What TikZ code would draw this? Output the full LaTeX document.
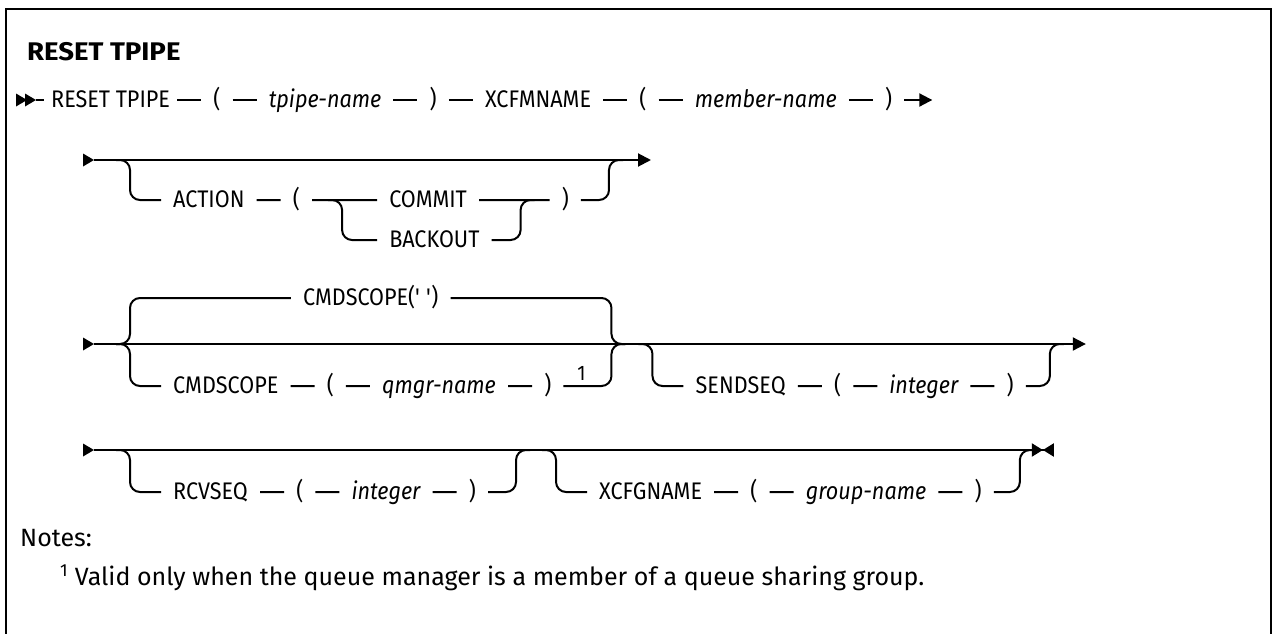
\documentclass[tikz,border=0pt]{standalone}
\usepackage{fontspec}
\setmainfont{Fira Sans}
\newfontfamily\railfont[FakeStretch=0.9]{Fira Sans}
\newfontfamily\titlefont[FakeStretch=1.08]{Fira Sans}
\usetikzlibrary{arrows.meta,positioning,calc}

\tikzset{
  rail/.style={line width=2pt,rounded corners=10pt},
  kw/.style={font=\railfont\fontsize{24}{28}\selectfont,inner xsep=12pt,inner ysep=0pt,text height=17pt,text depth=3pt},
  var/.style={kw,font=\railfont\itshape\fontsize{24}{28}\selectfont},
  endarrow/.style={-{Triangle[length=13pt,width=13pt]}},
  endstop/.style={-{Triangle[length=11pt,width=13pt] Triangle[reversed,length=11pt,width=13pt]}},
  startmark/.pic={\fill (0pt,0pt) -- (-11pt,6.5pt) -- (-11pt,-6.5pt) -- cycle;}
}

\begin{document}
\begin{tikzpicture}[x=1pt,y=-1pt,node distance=24pt]
  \useasboundingbox (0,0) rectangle (1274,634);
  % frame and title
  \draw[line width=2.4pt] (6,640) -- (6,9) -- (1271,9) -- (1271,640);
  \node[anchor=west,inner sep=0pt,font=\titlefont\bfseries\fontsize{25.5}{30}\selectfont] (ttl) at (27,52) {RESET TPIPE};

  % row 1
  \coordinate (b1) at (36,100);
  \pic at (27,100) {startmark};
  \pic at (36,100) {startmark};
  \node[kw,anchor=west,inner xsep=7pt] (rst) at (44,100) {RESET TPIPE};
  \node[kw,right=of rst] (lp1) {(};
  \node[var,right=of lp1] (tpn) {tpipe-name};
  \node[kw,right=of tpn] (rp1) {)};
  \node[kw,right=of rp1] (xfm) {XCFMNAME};
  \node[kw,right=of xfm] (lp2) {(};
  \node[var,right=of lp2] (mbn) {member-name};
  \node[kw,right=of mbn] (rp2) {)};
  \coordinate[right=28pt of rp2] (e1);
  \draw[rail] (b1) -- (rst) -- (lp1) -- (tpn) -- (rp1) -- (xfm) -- (lp2) -- (mbn) -- (rp2);
  \draw[rail,endarrow] (rp2) -- (e1);

  % row 2: ACTION
  \coordinate (b2) at (94,160);
  \coordinate (j2a) at (130,160);
  \pic at (94,160) {startmark};
  \node[kw,anchor=west] (act) at (161,200) {ACTION};
  \node[kw,right=of act] (lp3) {(};
  \coordinate (s3) at ($(lp3.east)+(30,0)$);
  \node[kw,anchor=west] (cmt) at ($(s3)+(35,0)$) {COMMIT};
  \node[kw,anchor=west] (bko) at ($(s3)+(35,40)$) {BACKOUT};
  \coordinate (m3) at ($(bko.east)+(29,-40)$);
  \node[kw,anchor=west] (rp3) at ($(m3)+(29,0)$) {)};
  \coordinate (j2b) at ($(rp3.east)+(28,-40)$);
  \coordinate[right=42pt of j2b] (e2);
  \draw[rail,endarrow] (b2) -- (e2);
  \draw[rail] (j2a) ++(-14,0) -| (j2a |- act) -- (act) -- (lp3) -- (cmt) -- (rp3) -| (j2b) -- ++(14,0);
  \draw[rail] (s3) ++(-14,0) -| (s3 |- bko) -- (bko) -| (m3) -- ++(14,0);

  % row 3: CMDSCOPE, SENDSEQ
  \coordinate (b3) at (94,344);
  \coordinate (j3a) at (130,344);
  \pic at (94,344) {startmark};
  \node[kw,anchor=west] (cmd) at (161,386) {CMDSCOPE};
  \node[kw,right=of cmd] (lp4) {(};
  \node[var,right=of lp4] (qmn) {qmgr-name};
  \node[kw,right=of qmn] (rp4) {)};
  \node[anchor=south,inner sep=0pt,font=\railfont\fontsize{21}{24}\selectfont] (nt1) at ($(rp4.east)+(18,-5)$) {1};
  \coordinate (j3b) at ($(rp4.east)+(48,-42)$);
  \node[kw] (dflt) at ($(j3a)!0.5!(j3b)+(0,-46)$) {CMDSCOPE(\textquotesingle\ \textquotesingle)};
  \coordinate[right=41pt of j3b] (j3c);
  \node[kw,anchor=west] (snd) at ($(j3c)+(31,42)$) {SENDSEQ};
  \node[kw,right=of snd] (lp5) {(};
  \node[var,right=of lp5] (int1) {integer};
  \node[kw,right=of int1] (rp5) {)};
  \coordinate (j3d) at ($(rp5.east)+(24,-42)$);
  \coordinate[right=36pt of j3d] (e3);
  \draw[rail,endarrow] (b3) -- (e3);
  \draw[rail] (j3a) ++(-14,0) -| (j3a |- dflt) -- (dflt) -| (j3b) -- ++(14,0);
  \draw[rail] (j3a) ++(-14,0) -| (j3a |- cmd) -- (cmd) -- (lp4) -- (qmn) -- (rp4) -| (j3b) -- ++(14,0);
  \draw[rail] (j3c) ++(-14,0) -| (j3c |- snd) -- (snd) -- (lp5) -- (int1) -- (rp5) -| (j3d) -- ++(14,0);

  % row 4: RCVSEQ, XCFGNAME
  \coordinate (b4) at (94,450);
  \coordinate (j4a) at (130,450);
  \pic at (94,450) {startmark};
  \node[kw,anchor=west] (rcv) at (161,492) {RCVSEQ};
  \node[kw,right=of rcv] (lp6) {(};
  \node[var,right=of lp6] (int2) {integer};
  \node[kw,right=of int2] (rp6) {)};
  \coordinate (j4b) at ($(rp6.east)+(28,-42)$);
  \coordinate[right=40pt of j4b] (j4c);
  \node[kw,anchor=west] (xcg) at ($(j4c)+(31,42)$) {XCFGNAME};
  \node[kw,right=of xcg] (lp7) {(};
  \node[var,right=of lp7] (grn) {group-name};
  \node[kw,right=of grn] (rp7) {)};
  \coordinate (j4d) at ($(rp7.east)+(26,-42)$);
  \coordinate[right=34pt of j4d] (e4);
  \draw[rail,endstop] (b4) -- (e4);
  \draw[rail] (j4a) ++(-14,0) -| (j4a |- rcv) -- (rcv) -- (lp6) -- (int2) -- (rp6) -| (j4b) -- ++(14,0);
  \draw[rail] (j4c) ++(-14,0) -| (j4c |- xcg) -- (xcg) -- (lp7) -- (grn) -- (rp7) -| (j4d) -- ++(14,0);

  % notes
  \node[anchor=west,inner sep=0pt,font=\fontsize{25}{30}\selectfont] (nts) at (20,538) {Notes:};
  \node[anchor=west,inner sep=0pt,font=\fontsize{25}{30}\selectfont] (fn1) at (60,578) {\textsuperscript{1} Valid only when the queue manager is a member of a queue sharing group.};
\end{tikzpicture}
\end{document}
